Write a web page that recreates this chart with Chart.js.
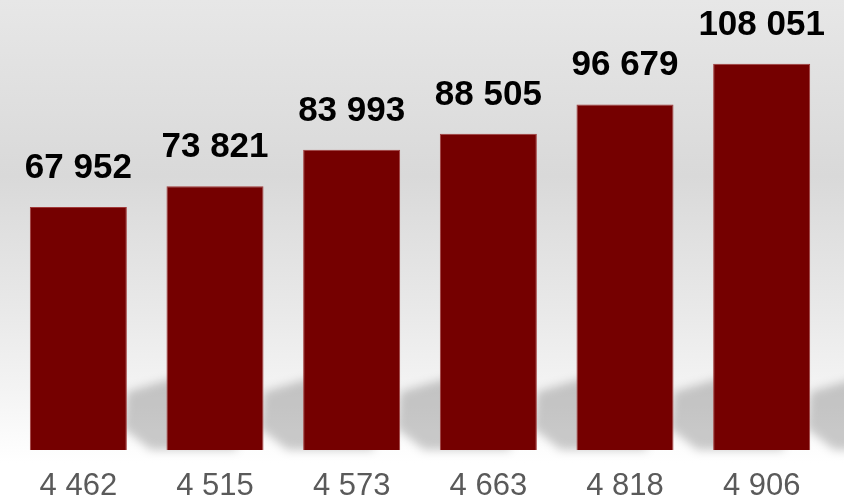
<!DOCTYPE html>
<html>
<head>
<meta charset="utf-8">
<script src="https://cdn.jsdelivr.net/npm/chart.js@4"></script>
<style>
  html, body { margin: 0; padding: 0; }
  #wrap {
    width: 844px; height: 503px; position: relative;
    background: linear-gradient(to bottom, #e7e7e7 0%, #d9d9d9 35%, #e9e9e9 62%, #f4f4f4 78%, #ffffff 92%, #ffffff 100%);
  }
</style>
</head>
<body>
<div id="wrap"><canvas id="chart"></canvas></div>
<script>
const categories = ['4 462', '4 515', '4 573', '4 663', '4 818', '4 906'];
const values = [67952, 73821, 83993, 88505, 96679, 108051];

// thousands with a space, like the source
function fmt(v) {
    return String(v).replace(/\B(?=(\d{3})+(?!\d))/g, ' ');
}

// soft slanted shadow behind each bar
const shadowPlugin = {
    id: 'barShadow',
    beforeDatasetsDraw(chart) {
        const ctx = chart.ctx;
        const meta = chart.getDatasetMeta(0);
        ctx.save();
        ctx.filter = 'blur(5px)';
        ctx.fillStyle = 'rgba(0,0,0,0.2)';
        meta.data.forEach(bar => {
            const R = bar.x + bar.width / 2;
            const B = bar.base;
            ctx.beginPath();
            ctx.moveTo(R - 4, B - 22);
            ctx.lineTo(R + 24, B);
            ctx.lineTo(R + 110, B);
            ctx.lineTo(R + 110, B - 90);
            ctx.lineTo(R, B - 58);
            ctx.closePath();
            ctx.fill();
        });
        ctx.restore();
    }
};

// value labels on top of the bars
const valueLabels = {
    id: 'valueLabels',
    afterDatasetsDraw(chart) {
        const ctx = chart.ctx;
        const meta = chart.getDatasetMeta(0);
        ctx.save();
        ctx.font = 'bold 35px "Liberation Sans", Arial, sans-serif';
        ctx.fillStyle = '#000';
        ctx.textAlign = 'center';
        ctx.textBaseline = 'alphabetic';
        meta.data.forEach((bar, i) => {
            ctx.fillText(fmt(values[i]), bar.x, bar.y - 29);
        });
        ctx.restore();
    }
};

new Chart(document.getElementById('chart'), {
    type: 'bar',
    data: {
        labels: categories,
        datasets: [{
            data: values,
            backgroundColor: '#750000',
            borderColor: '#a03a3a',
            borderWidth: 1,
            barPercentage: 0.71,
            categoryPercentage: 1
        }]
    },
    options: {
        responsive: true,
        maintainAspectRatio: false,
        animation: false,
        layout: { padding: { left: 10, right: 14, top: 0, bottom: 0 } },
        plugins: {
            legend: { display: false },
            tooltip: { enabled: false }
        },
        scales: {
            y: {
                display: false,
                min: 0,
                max: 125900
            },
            x: {
                grid: { display: false, drawTicks: false },
                border: { display: false },
                afterFit: function(scale) { scale.height = 53; },
                ticks: {
                    color: '#5a5a5a',
                    padding: 18,
                    font: { family: '"Liberation Sans", Arial, sans-serif', size: 31 }
                }
            }
        }
    },
    plugins: [shadowPlugin, valueLabels]
});
</script>
</body>
</html>
